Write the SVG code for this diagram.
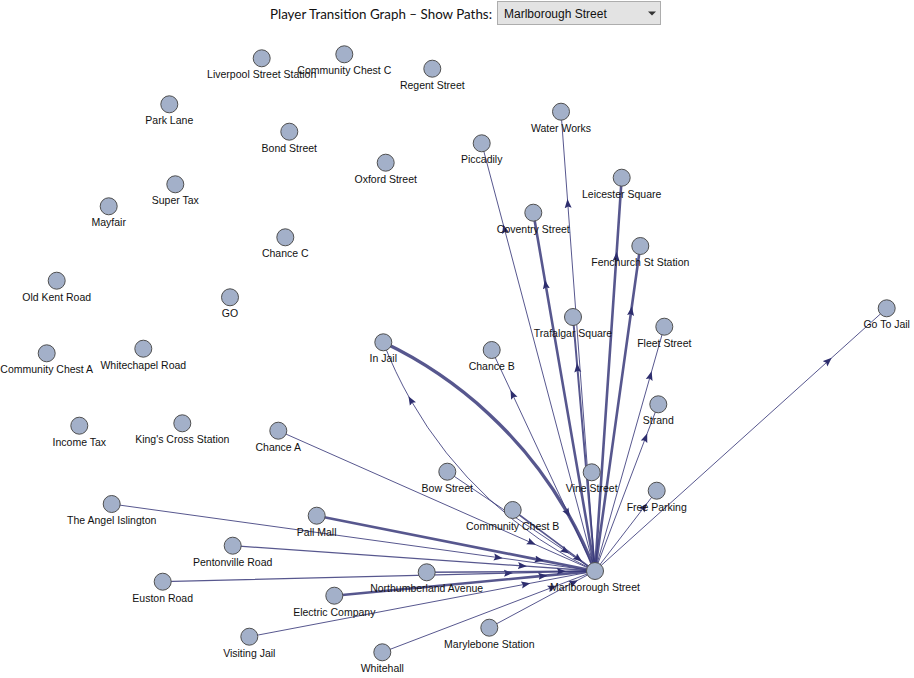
<svg xmlns="http://www.w3.org/2000/svg" width="914" height="678" viewBox="0 0 914 678">
<style>
.e{fill:none;stroke:#3a3a7a;stroke-opacity:0.85;marker-mid:url(#arr)}
.n circle{fill:#a3b0c9;stroke:#505050;stroke-width:1}
.n text{font-family:"Liberation Sans",Arial,sans-serif;font-size:10.5px;fill:#111;text-anchor:middle}
.w1{stroke-width:1}
.w12{stroke-width:1.3}
.w15{stroke-width:1.6}
.w2{stroke-width:2}
.w25{stroke-width:2.6}
.w3{stroke-width:3.4}
</style>
<defs>
<marker id="arr" markerUnits="userSpaceOnUse" markerWidth="9" markerHeight="8" viewBox="0 -4 9 8" refX="4.5" refY="0" orient="auto">
<path d="M0,-3.5L9,0L0,3.5L1.5,0Z" fill="#2e2e6e"/>
</marker>
</defs>
<rect width="914" height="678" fill="#fff"/>
<g id="header">
<text x="270" y="18.5" font-family="Lato,'Open Sans',sans-serif" font-size="14" fill="#111" textLength="222" lengthAdjust="spacingAndGlyphs">Player Transition Graph – Show Paths:</text>
<rect x="497.5" y="1.5" width="163" height="23" fill="#e3e3e3" stroke="#adadad"/>
<text x="504" y="18.3" font-family="'Liberation Sans',Arial,sans-serif" font-size="12" fill="#111">Marlborough Street</text>
<path d="M648,11.5L656,11.5L652,15.5Z" fill="#333"/>
</g>
<g id="connectors">
<path class="e w1" d="M111.7,504L498.3,557.6L595,571"/>
<path class="e w1" d="M278.3,430.7L531.7,542.9L595,571"/>
<path class="e w12" d="M232.7,545.7L522.5,565.9L595,571"/>
<path class="e w12" d="M162.7,581.7L508.5,573.1L595,571"/>
<path class="e w25" d="M316.7,515.7L539.3,559.9L595,571"/>
<path class="e w15" d="M426.7,572.3L561.3,571.3L595,571"/>
<path class="e w25" d="M334.3,595.7L542.9,575.9L595,571"/>
<path class="e w1" d="M249.3,636.7L525.9,584.1L595,571"/>
<path class="e w1" d="M382.3,652.3L552.5,587.3L595,571"/>
<path class="e w1" d="M489.3,627.7L573.9,582.3L595,571"/>
<path class="e w1" d="M447.3,471.7L565.5,551.1L595,571"/>
<path class="e w15" d="M512.7,510L578.5,558.8L595,571"/>
<path class="e w3" d="M383.3,342.3A420,420 0 0,1 567.6,513.2A420,420 0 0,1 595,571"/>
<path class="e w1" d="M595,571A420,420 0 0,1 410.7,400.1A420,420 0 0,1 383.3,342.3"/>
<path class="e w1" d="M595,571L828.4,360.8L886.7,308.3"/>
<path class="e w1" d="M595,571L644.4,506.8L656.7,490.7"/>
<path class="e w1" d="M595,571L645.6,437.6L658.3,404.3"/>
<path class="e w1" d="M595,571L650.4,375.6L664.3,326.7"/>
<path class="e w25" d="M595,571L631.2,311L640.3,246"/>
<path class="e w25" d="M595,571L616.4,256.4L621.7,177.7"/>
<path class="e w2" d="M595,571L577.4,367.8L573,317"/>
<path class="e w1" d="M595,571L567.8,203.6L561,111.7"/>
<path class="e w25" d="M595,571L545.6,284.4L533.3,212.7"/>
<path class="e w1" d="M595,571L504.4,228.8L481.7,143.3"/>
<path class="e w1" d="M595,571L512.4,394.2L491.7,350"/>
</g>
<g id="n-liverpool" class="n"><circle cx="261.7" cy="58.3" r="8.5"/><text x="261.7" y="78.3">Liverpool Street Station</text></g>
<g id="n-ccc" class="n"><circle cx="344.3" cy="54.3" r="8.5"/><text x="344.3" y="74.3">Community Chest C</text></g>
<g id="n-regent" class="n"><circle cx="432.3" cy="68.7" r="8.5"/><text x="432.3" y="88.7">Regent Street</text></g>
<g id="n-parklane" class="n"><circle cx="169.3" cy="104.3" r="8.5"/><text x="169.3" y="124.3">Park Lane</text></g>
<g id="n-bond" class="n"><circle cx="289.3" cy="131.7" r="8.5"/><text x="289.3" y="151.7">Bond Street</text></g>
<g id="n-oxford" class="n"><circle cx="385.7" cy="162.7" r="8.5"/><text x="385.7" y="182.7">Oxford Street</text></g>
<g id="n-supertax" class="n"><circle cx="175.3" cy="184.3" r="8.5"/><text x="175.3" y="204.3">Super Tax</text></g>
<g id="n-mayfair" class="n"><circle cx="108.7" cy="206.3" r="8.5"/><text x="108.7" y="226.3">Mayfair</text></g>
<g id="n-chancec" class="n"><circle cx="285.3" cy="237.3" r="8.5"/><text x="285.3" y="257.3">Chance C</text></g>
<g id="n-waterworks" class="n"><circle cx="561" cy="111.7" r="8.5"/><text x="561" y="131.7">Water Works</text></g>
<g id="n-piccadily" class="n"><circle cx="481.7" cy="143.3" r="8.5"/><text x="481.7" y="163.3">Piccadily</text></g>
<g id="n-leicester" class="n"><circle cx="621.7" cy="177.7" r="8.5"/><text x="621.7" y="197.7">Leicester Square</text></g>
<g id="n-coventry" class="n"><circle cx="533.3" cy="212.7" r="8.5"/><text x="533.3" y="232.7">Coventry Street</text></g>
<g id="n-fenchurch" class="n"><circle cx="640.3" cy="246" r="8.5"/><text x="640.3" y="266">Fenchurch St Station</text></g>
<g id="n-oldkent" class="n"><circle cx="56.7" cy="280.7" r="8.5"/><text x="56.7" y="300.7">Old Kent Road</text></g>
<g id="n-go" class="n"><circle cx="230" cy="297.3" r="8.5"/><text x="230" y="317.3">GO</text></g>
<g id="n-cca" class="n"><circle cx="46.7" cy="353.3" r="8.5"/><text x="46.7" y="373.3">Community Chest A</text></g>
<g id="n-whitechapel" class="n"><circle cx="143.3" cy="348.7" r="8.5"/><text x="143.3" y="368.7">Whitechapel Road</text></g>
<g id="n-incometax" class="n"><circle cx="79.3" cy="425.7" r="8.5"/><text x="79.3" y="445.7">Income Tax</text></g>
<g id="n-kingscross" class="n"><circle cx="182.3" cy="423.3" r="8.5"/><text x="182.3" y="443.3">King's Cross Station</text></g>
<g id="n-chancea" class="n"><circle cx="278.3" cy="430.7" r="8.5"/><text x="278.3" y="450.7">Chance A</text></g>
<g id="n-injail" class="n"><circle cx="383.3" cy="342.3" r="8.5"/><text x="383.3" y="362.3">In Jail</text></g>
<g id="n-chanceb" class="n"><circle cx="491.7" cy="350" r="8.5"/><text x="491.7" y="370">Chance B</text></g>
<g id="n-trafalgar" class="n"><circle cx="573" cy="317" r="8.5"/><text x="573" y="337">Trafalgar Square</text></g>
<g id="n-fleet" class="n"><circle cx="664.3" cy="326.7" r="8.5"/><text x="664.3" y="346.7">Fleet Street</text></g>
<g id="n-gotojail" class="n"><circle cx="886.7" cy="308.3" r="8.5"/><text x="886.7" y="328.3">Go To Jail</text></g>
<g id="n-strand" class="n"><circle cx="658.3" cy="404.3" r="8.5"/><text x="658.3" y="424.3">Strand</text></g>
<g id="n-bow" class="n"><circle cx="447.3" cy="471.7" r="8.5"/><text x="447.3" y="491.7">Bow Street</text></g>
<g id="n-vine" class="n"><circle cx="591.7" cy="472.3" r="8.5"/><text x="591.7" y="492.3">Vine Street</text></g>
<g id="n-freeparking" class="n"><circle cx="656.7" cy="490.7" r="8.5"/><text x="656.7" y="510.7">Free Parking</text></g>
<g id="n-ccb" class="n"><circle cx="512.7" cy="510" r="8.5"/><text x="512.7" y="530">Community Chest B</text></g>
<g id="n-angel" class="n"><circle cx="111.7" cy="504" r="8.5"/><text x="111.7" y="524">The Angel Islington</text></g>
<g id="n-pallmall" class="n"><circle cx="316.7" cy="515.7" r="8.5"/><text x="316.7" y="535.7">Pall Mall</text></g>
<g id="n-pentonville" class="n"><circle cx="232.7" cy="545.7" r="8.5"/><text x="232.7" y="565.7">Pentonville Road</text></g>
<g id="n-euston" class="n"><circle cx="162.7" cy="581.7" r="8.5"/><text x="162.7" y="601.7">Euston Road</text></g>
<g id="n-northumberland" class="n"><circle cx="426.7" cy="572.3" r="8.5"/><text x="426.7" y="592.3">Northumberland Avenue</text></g>
<g id="n-electric" class="n"><circle cx="334.3" cy="595.7" r="8.5"/><text x="334.3" y="615.7">Electric Company</text></g>
<g id="n-visitingjail" class="n"><circle cx="249.3" cy="636.7" r="8.5"/><text x="249.3" y="656.7">Visiting Jail</text></g>
<g id="n-marylebone" class="n"><circle cx="489.3" cy="627.7" r="8.5"/><text x="489.3" y="647.7">Marylebone Station</text></g>
<g id="n-whitehall" class="n"><circle cx="382.3" cy="652.3" r="8.5"/><text x="382.3" y="672.3">Whitehall</text></g>
<g id="n-marlborough" class="n"><circle cx="595" cy="571" r="8.5"/><text x="595" y="591">Marlborough Street</text></g>
</svg>
